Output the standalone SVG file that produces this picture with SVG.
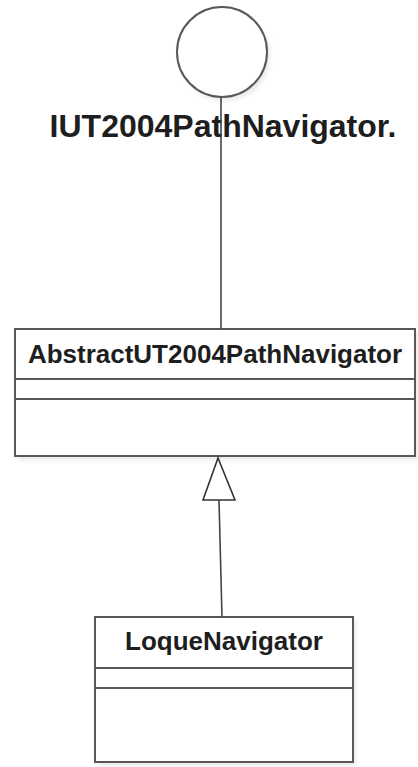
<svg xmlns="http://www.w3.org/2000/svg" width="418" height="767" viewBox="0 0 418 767">
  <style>
    .box { fill: #ffffff; stroke: #585858; stroke-width: 2; }
    .shadow { fill: #e9e9e9; stroke: none; }
    .sep { stroke: #585858; stroke-width: 2; fill: none; }
    .edge { stroke: #444444; stroke-width: 1.6; fill: none; }
    .lbl { font-family: "Liberation Sans", Arial, sans-serif; font-weight: bold; fill: #1e1e1e; text-anchor: middle; }
  </style>
  <defs>
    <filter id="soft" x="-10%" y="-10%" width="120%" height="120%">
      <feGaussianBlur stdDeviation="2"/>
    </filter>
  </defs>
  <rect width="418" height="767" fill="#ffffff"/>

  <!-- interface lollipop -->
  <g id="iface">
    <circle cx="225" cy="56" r="45" class="shadow" filter="url(#soft)"/>
    <circle cx="222" cy="52" r="45" class="box"/>
    <text x="223" y="137" class="lbl" font-size="32">IUT2004PathNavigator.</text>
  </g>

  <!-- abstract class -->
  <g id="abstract">
    <rect x="18" y="332" width="400" height="128" class="shadow" filter="url(#soft)"/>
    <rect x="15" y="329" width="400" height="127" class="box"/>
    <line x1="15" y1="379" x2="415" y2="379" class="sep"/>
    <line x1="15" y1="399" x2="415" y2="399" class="sep"/>
    <text x="215" y="363" class="lbl" font-size="26">AbstractUT2004PathNavigator</text>
  </g>

  <!-- concrete class -->
  <g id="loque">
    <rect x="98" y="620" width="258" height="146" class="shadow" filter="url(#soft)"/>
    <rect x="95" y="617" width="258" height="145" class="box"/>
    <line x1="95" y1="668" x2="353" y2="668" class="sep"/>
    <line x1="95" y1="688" x2="353" y2="688" class="sep"/>
    <text x="224" y="650" class="lbl" font-size="26">LoqueNavigator</text>
  </g>

  <!-- connectors -->
  <g id="edges">
    <line x1="221" y1="97" x2="221" y2="329" class="edge"/>
    <line x1="219" y1="500" x2="222" y2="617" class="edge"/>
    <polygon points="218,458 203,500 235,500" fill="#ffffff" stroke="#333333" stroke-width="1.6"/>
  </g>
</svg>
